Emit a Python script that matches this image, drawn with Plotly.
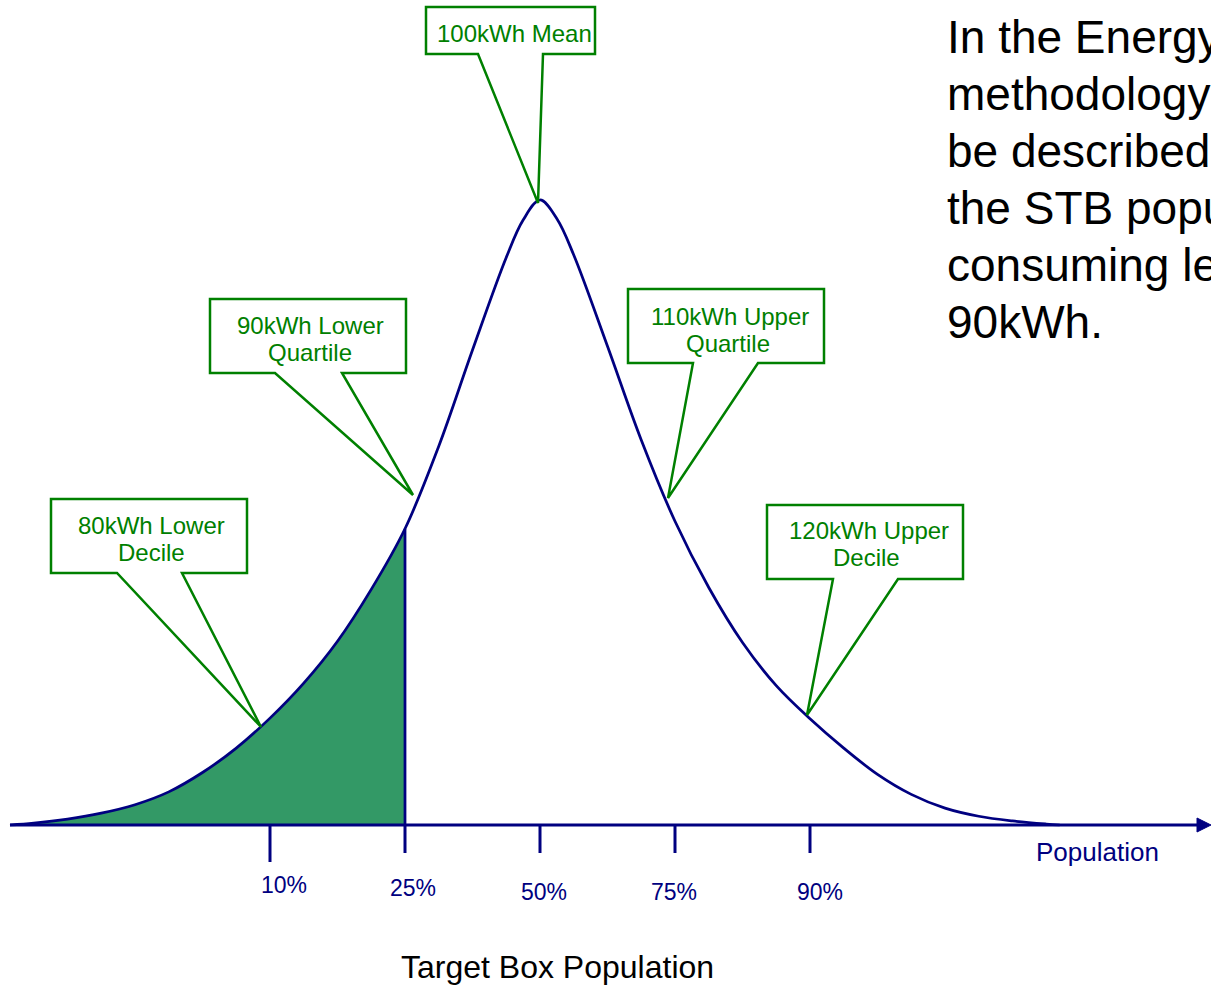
import plotly.graph_objects as go

# ---------------- data ----------------
# consumption (kWh) along the population axis and relative frequency (peak = 100)
kwh = [60.74, 62.5, 65.0, 67.5, 70.0, 72.5, 75.0, 77.5, 80.0, 82.5,
       85.0, 87.5, 90.0, 92.5, 95.0, 97.5, 98.75, 100.0, 101.25, 102.5,
       105.0, 107.5, 110.0, 112.5, 115.0, 117.5, 120.0, 122.5, 125.0, 127.5,
       130.0, 132.5, 135.0, 137.5, 138.5]
density = [0.0, 0.3, 0.95, 1.9, 3.25, 5.3, 8.4, 12.3, 17.1, 22.7,
           29.4, 37.7, 47.4, 60.6, 76.0, 90.8, 96.8, 100.0, 97.0, 91.2,
           76.6, 61.6, 48.6, 38.0, 29.2, 22.3, 17.0, 12.3, 8.1, 4.9,
           2.7, 1.4, 0.65, 0.15, 0.0]

target_kwh = 90.0                      # shaded "target box population" (lower quartile)
tick_kwh = [80, 90, 100, 110, 120]
tick_labels = ["10%", "25%", "50%", "75%", "90%"]
callout_texts = [["100kWh Mean"],
                 ["90kWh Lower", "Quartile"],
                 ["80kWh Lower", "Decile"],
                 ["110kWh Upper", "Quartile"],
                 ["120kWh Upper", "Decile"]]
axis_title = "Population"
chart_title = "Target Box Population"
side_text = ["In the Energy Star", "methodology the 25% could", "be described as the level of",
             "the STB population", "consuming less than", "90kWh."]

# ---------------- layout helpers (pixel -> data) ----------------
W, H = 1211, 994
PX_PER_KWH = 13.5
PX_PER_UNIT = 6.25
X_MID_PX, BASE_PY = 540, 825


def X(px):
    return 100 + (px - X_MID_PX) / PX_PER_KWH


def Y(py):
    return (BASE_PY - py) / PX_PER_UNIT


NAVY = "#000080"
GREEN = "#008000"
FILL = "#339966"
FONT = "Liberation Sans, Arial, sans-serif"

fig = go.Figure()

# shaded area up to the target
n_fill = sum(1 for k in kwh if k <= target_kwh)
fig.add_trace(go.Scatter(x=kwh[:n_fill], y=density[:n_fill], mode="lines",
                         line=dict(color=FILL, width=0, shape="spline", smoothing=1.0),
                         fill="tozeroy", fillcolor=FILL, hoverinfo="skip", showlegend=False))
# distribution curve
fig.add_trace(go.Scatter(x=kwh, y=density, mode="lines",
                         line=dict(color=NAVY, width=2.75, shape="spline", smoothing=1.0),
                         hoverinfo="skip", showlegend=False))
# vertical edge of the shaded area
h_target = density[kwh.index(target_kwh)]
fig.add_trace(go.Scatter(x=[target_kwh, target_kwh], y=[h_target, 0], mode="lines",
                         line=dict(color=NAVY, width=2.75), hoverinfo="skip", showlegend=False))

shapes = []
# horizontal axis with arrow
shapes.append(dict(type="line", xref="x", yref="y", x0=X(10), x1=X(1200), y0=0, y1=0,
                   line=dict(color=NAVY, width=3)))
shapes.append(dict(type="path", xref="x", yref="y",
                   path=f"M {X(1197)},{Y(818)} L {X(1211)},{Y(825)} L {X(1197)},{Y(832)} Z",
                   fillcolor=NAVY, line=dict(color=NAVY, width=1)))
# ticks
tick_bottom_py = [862, 853, 853, 853, 853]
for t, b in zip(tick_kwh, tick_bottom_py):
    shapes.append(dict(type="line", xref="x", yref="y", x0=t, x1=t, y0=0, y1=Y(b),
                       line=dict(color=NAVY, width=3)))

# callouts (box, pointer base, tip) in pixels
callouts = [
    dict(box=(426, 7, 595, 54), base=(478, 543), tip=(538, 203),
         text_xy=[(514, 33)]),
    dict(box=(210, 299, 406, 373), base=(275, 342), tip=(413, 495),
         text_xy=[(310, 325), (310, 352)]),
    dict(box=(51, 499, 247, 573), base=(117, 182), tip=(261, 727),
         text_xy=[(151, 525), (151, 552)]),
    dict(box=(628, 289, 824, 363), base=(693, 758), tip=(668, 498),
         text_xy=[(730, 316), (728, 343)]),
    dict(box=(767, 505, 963, 579), base=(833, 898), tip=(807, 715),
         text_xy=[(869, 530), (866, 557)]),
]
annotations = []
for c, texts in zip(callouts, callout_texts):
    x0, y0, x1, y1 = c["box"]
    b1, b2 = c["base"]
    tx, ty = c["tip"]
    pts = [(x0, y0), (x1, y0), (x1, y1), (b2, y1), (tx, ty), (b1, y1), (x0, y1)]
    path = "M " + " L ".join(f"{X(px)},{Y(py)}" for px, py in pts) + " Z"
    shapes.append(dict(type="path", xref="x", yref="y", path=path, fillcolor="white",
                       line=dict(color=GREEN, width=2.5), layer="above"))
    for (px, py), s in zip(c["text_xy"], texts):
        annotations.append(dict(x=X(px), y=Y(py), xref="x", yref="y", text=s, showarrow=False,
                                xanchor="center", yanchor="middle",
                                font=dict(family=FONT, size=24, color=GREEN)))

# percentage labels under ticks
label_pos = [(284, 885), (413, 888), (544, 892), (674, 892), (820, 892)]
for (px, py), s in zip(label_pos, tick_labels):
    annotations.append(dict(x=X(px), y=Y(py), xref="x", yref="y", text=s, showarrow=False,
                            xanchor="center", yanchor="middle",
                            font=dict(family=FONT, size=23, color=NAVY)))

annotations.append(dict(x=X(1097), y=Y(852), xref="x", yref="y", text=axis_title,
                        showarrow=False, xanchor="center", yanchor="middle",
                        font=dict(family=FONT, size=26, color=NAVY)))
annotations.append(dict(x=X(557), y=Y(967), xref="x", yref="y", text=chart_title,
                        showarrow=False, xanchor="center", yanchor="middle",
                        font=dict(family=FONT, size=32, color="black")))
for i, s in enumerate(side_text):
    annotations.append(dict(x=X(945), y=Y(37 + 57 * i), xref="x", yref="y", text=s,
                            showarrow=False, xanchor="left", yanchor="middle",
                            font=dict(family=FONT, size=46, color="black")))

fig.update_layout(
    width=W, height=H, margin=dict(l=0, r=0, t=0, b=0),
    paper_bgcolor="white", plot_bgcolor="white",
    xaxis=dict(range=[X(0), X(W)], visible=False, fixedrange=True),
    yaxis=dict(range=[Y(H), Y(0)], visible=False, fixedrange=True),
    shapes=shapes, annotations=annotations, showlegend=False,
)

fig.write_html("out.html", config={"displayModeBar": False, "staticPlot": True},
               post_script="document.body.style.margin='0';"
                           "document.documentElement.style.overflow='hidden';")
